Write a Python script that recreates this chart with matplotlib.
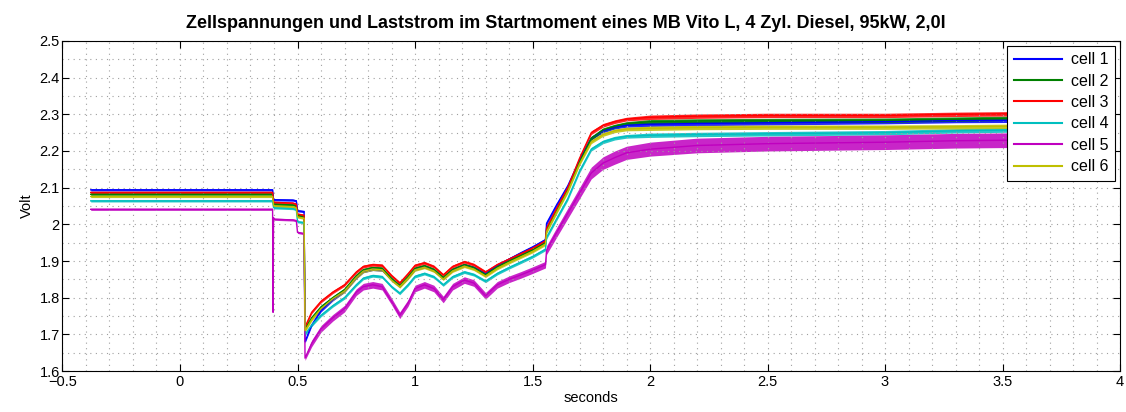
import matplotlib
matplotlib.use("Agg")
import matplotlib.pyplot as plt
import numpy as np
from matplotlib.ticker import MultipleLocator

plt.rcParams['font.family'] = ['Liberation Sans', 'DejaVu Sans']

title = "Zellspannungen und Laststrom im Startmoment eines MB Vito L, 4 Zyl. Diesel, 95kW, 2,0l"
x_label = "seconds"
y_label = "Volt"

t = [-0.38, 0.394, 0.396, 0.398, 0.40, 0.48, 0.495, 0.50, 0.525, 0.528, 0.532, 0.56, 0.60,
     0.65, 0.70, 0.75, 0.78, 0.82, 0.86, 0.90, 0.935, 0.97, 1.00, 1.04, 1.08, 1.12, 1.16,
     1.21, 1.25, 1.30, 1.35, 1.40, 1.45, 1.50, 1.555, 1.56, 1.60, 1.65, 1.70, 1.75, 1.80,
     1.85, 1.90, 2.0, 2.2, 2.5, 3.0, 3.3, 3.62]

cell1 = [2.094, 2.094, 2.08, 2.068, 2.067, 2.066, 2.064, 2.037, 2.035, 2.035, 1.68, 1.725, 1.765,
         1.795, 1.818, 1.855, 1.872, 1.878, 1.876, 1.85, 1.832, 1.855, 1.878, 1.885, 1.875, 1.853,
         1.876, 1.889, 1.882, 1.865, 1.888, 1.905, 1.922, 1.938, 1.958, 2.003, 2.05, 2.105, 2.175,
         2.235, 2.255, 2.265, 2.27, 2.273, 2.275, 2.277, 2.28, 2.283, 2.284]
cell2 = [2.082, 2.082, 2.07, 2.057, 2.055, 2.053, 2.05, 2.024, 2.021, 2.021, 1.715, 1.745, 1.775,
         1.80, 1.822, 1.86, 1.876, 1.882, 1.88, 1.852, 1.833, 1.857, 1.88, 1.887, 1.877, 1.855,
         1.877, 1.89, 1.882, 1.863, 1.884, 1.90, 1.915, 1.93, 1.95, 1.985, 2.035, 2.095, 2.17,
         2.235, 2.258, 2.268, 2.275, 2.28, 2.282, 2.283, 2.284, 2.287, 2.29]
cell3 = [2.087, 2.087, 2.075, 2.062, 2.060, 2.058, 2.055, 2.028, 2.025, 2.025, 1.72, 1.76, 1.79,
         1.815, 1.835, 1.87, 1.885, 1.89, 1.888, 1.86, 1.84, 1.865, 1.888, 1.895, 1.885, 1.862,
         1.885, 1.898, 1.89, 1.87, 1.89, 1.905, 1.92, 1.935, 1.955, 1.99, 2.04, 2.10, 2.18,
         2.25, 2.27, 2.28, 2.287, 2.292, 2.295, 2.297, 2.297, 2.30, 2.302]
cell4 = [2.064, 2.064, 2.055, 2.046, 2.045, 2.043, 2.04, 2.007, 2.005, 2.005, 1.70, 1.725, 1.752,
         1.778, 1.80, 1.835, 1.853, 1.86, 1.857, 1.83, 1.812, 1.835, 1.858, 1.866, 1.857, 1.835,
         1.857, 1.87, 1.863, 1.845, 1.866, 1.882, 1.897, 1.912, 1.932, 1.965, 2.012, 2.07, 2.145,
         2.205, 2.225, 2.235, 2.24, 2.243, 2.245, 2.247, 2.25, 2.255, 2.258]
cell5 = [2.041, 2.041, 1.76, 2.018, 2.014, 2.012, 2.01, 1.978, 1.975, 1.975, 1.635, 1.675, 1.715,
         1.745, 1.77, 1.815, 1.83, 1.835, 1.83, 1.79, 1.752, 1.785, 1.825, 1.835, 1.825, 1.795,
         1.83, 1.848, 1.84, 1.805, 1.835, 1.85, 1.862, 1.875, 1.89, 1.93, 1.975, 2.03, 2.085,
         2.14, 2.167, 2.182, 2.195, 2.205, 2.215, 2.22, 2.224, 2.228, 2.23]
cell6 = [2.076, 2.076, 2.064, 2.052, 2.05, 2.048, 2.045, 2.02, 2.017, 2.017, 1.71, 1.74, 1.77,
         1.797, 1.818, 1.855, 1.872, 1.878, 1.876, 1.848, 1.83, 1.853, 1.876, 1.883, 1.873, 1.851,
         1.873, 1.886, 1.878, 1.859, 1.88, 1.896, 1.911, 1.926, 1.946, 1.98, 2.03, 2.09, 2.165,
         2.225, 2.245, 2.255, 2.26, 2.262, 2.264, 2.265, 2.265, 2.266, 2.268]

# half-width of the visible noise band around each trace
band_hw = [0.003, 0.003, 0.003, 0.003, 0.003, 0.003, 0.003, 0.003, 0.003, 0.003,
           0.004, 0.004, 0.004, 0.004, 0.004, 0.004, 0.004, 0.004, 0.004, 0.004,
           0.004, 0.004, 0.004, 0.004, 0.004, 0.004, 0.004, 0.004, 0.004, 0.004,
           0.004, 0.004, 0.004, 0.004, 0.004, 0.005, 0.005, 0.005, 0.005, 0.005,
           0.005, 0.005, 0.005, 0.006, 0.006, 0.006, 0.006, 0.006, 0.006]
band_hw5 = [0.003, 0.003, 0.001, 0.003, 0.003, 0.003, 0.003, 0.003, 0.003, 0.003,
            0.006, 0.009, 0.009, 0.009, 0.009, 0.009, 0.009, 0.009, 0.009, 0.009,
            0.009, 0.009, 0.009, 0.009, 0.009, 0.009, 0.009, 0.009, 0.009, 0.009,
            0.009, 0.009, 0.009, 0.009, 0.009, 0.012, 0.013, 0.014, 0.015, 0.016,
            0.017, 0.018, 0.018, 0.019, 0.02, 0.02, 0.02, 0.02, 0.02]

labels = ["cell 1", "cell 2", "cell 3", "cell 4", "cell 5", "cell 6"]
colors = ["#0000ff", "#008000", "#ff0000", "#00bfbf", "#bf00bf", "#bfbf00"]
bands = [band_hw, band_hw, band_hw, band_hw, band_hw5, band_hw]
series = [cell1, cell2, cell3, cell4, cell5, cell6]

fig = plt.figure(figsize=(11.26, 4.12), dpi=100)
ax = fig.add_axes([0.0555, 0.0995, 0.9392, 0.801])

for s, c, lab, b in zip(series, colors, labels, bands):
    s_arr = np.array(s)
    b_arr = np.array(b)
    ax.fill_between(t, s_arr - b_arr, s_arr + b_arr, color=c, alpha=0.85, lw=0)
    ax.plot(t, s, color=c, lw=1.0, label=lab)

ax.set_xlim(-0.5, 4)
ax.set_ylim(1.6, 2.5)
ax.xaxis.set_minor_locator(MultipleLocator(0.1))
ax.yaxis.set_minor_locator(MultipleLocator(0.05))
ax.set_xticks([-0.5, 0, 0.5, 1, 1.5, 2, 2.5, 3, 3.5, 4])
ax.set_xticklabels(["\u22120.5", "0", "0.5", "1", "1.5", "2", "2.5", "3", "3.5", "4"])
ax.set_yticks([1.6, 1.7, 1.8, 1.9, 2.0, 2.1, 2.2, 2.3, 2.4, 2.5])
ax.set_yticklabels(["1.6", "1.7", "1.8", "1.9", "2", "2.1", "2.2", "2.3", "2.4", "2.5"])
ax.grid(True, which='both', linestyle=(0, (1, 4)), color='#a0a0a0', linewidth=0.8)
ax.tick_params(which='major', direction='in', top=True, right=True, length=5,
               labelsize=10.5, width=0.8, pad=2)
ax.tick_params(axis='x', which='major', pad=3)
ax.tick_params(which='minor', length=0)
for sp in ax.spines.values():
    sp.set_linewidth(0.8)

ax.set_title(title, fontsize=13, fontweight='bold', pad=9, x=0.476)
ax.set_xlabel(x_label, fontsize=10.5, labelpad=1)
ax.set_ylabel(y_label, fontsize=10.5, labelpad=4)

leg = ax.legend(loc='upper right', fancybox=False, edgecolor='black', framealpha=1,
                fontsize=11.5, handlelength=3.0, borderaxespad=0.3, labelspacing=0.4,
                handletextpad=0.6, borderpad=0.4)
leg.get_frame().set_linewidth(0.8)
for ln in leg.get_lines():
    ln.set_linewidth(1.5)

fig.savefig("out.png", dpi=100)
